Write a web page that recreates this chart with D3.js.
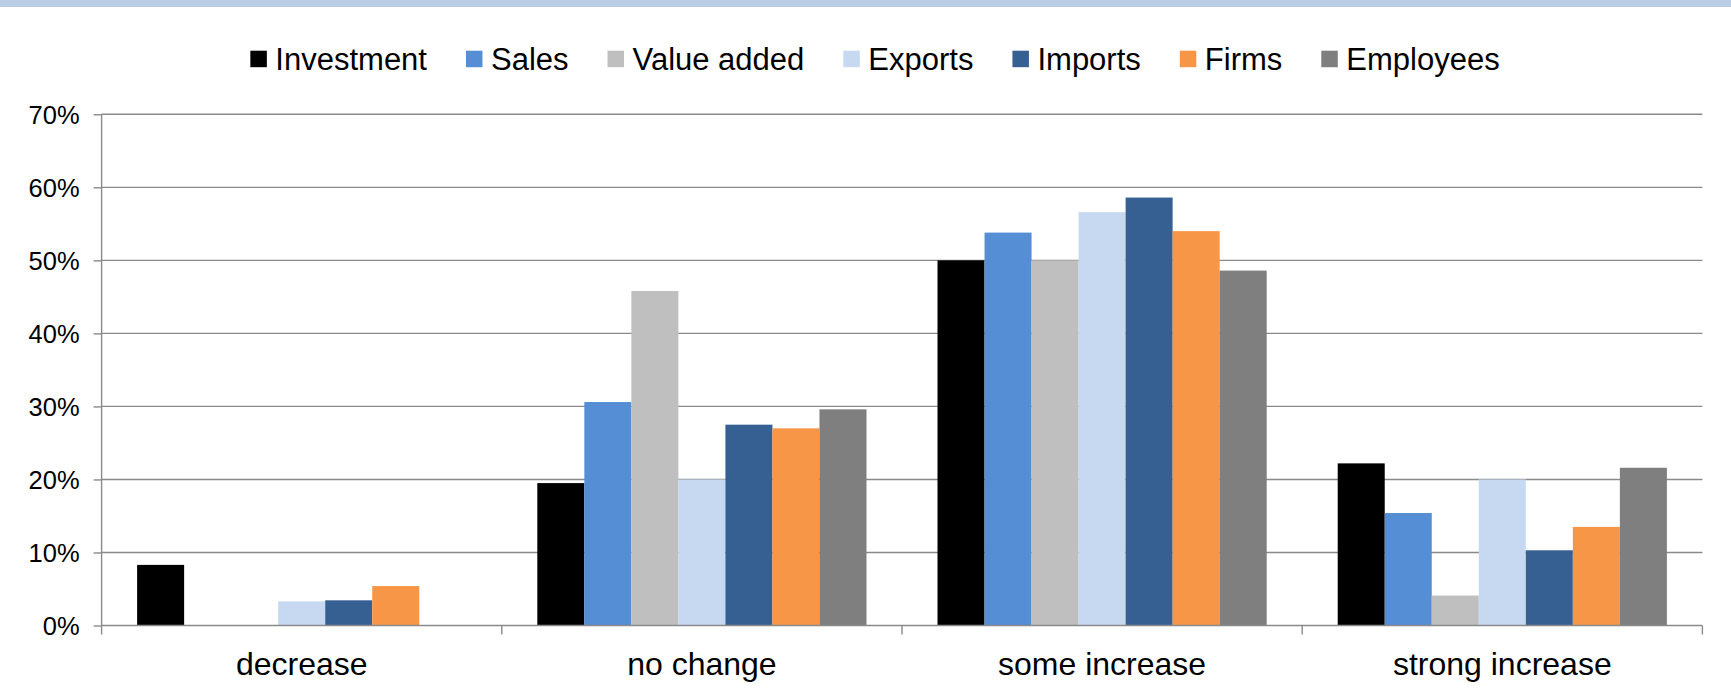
<!DOCTYPE html>
<html>
<head>
<meta charset="utf-8">
<script src="https://cdn.jsdelivr.net/npm/d3@7"></script>
<style>
  html, body { margin: 0; padding: 0; background: #fff; }
  svg { display: block; }
  text { font-family: "Liberation Sans", Arial, sans-serif; fill: #000; }
</style>
</head>
<body>
<svg id="chart" width="1731" height="694"></svg>
<script>
const categories = ["decrease", "no change", "some increase", "strong increase"];
const seriesNames = ["Investment", "Sales", "Value added", "Exports", "Imports", "Firms", "Employees"];
const seriesColors = ["#000000", "#558ed5", "#bfbfbf", "#c6d9f1", "#376092", "#f79646", "#7f7f7f"];
const investment = [8.3, 19.5, 50.0, 22.2];
const sales      = [0, 30.6, 53.8, 15.4];
const valueAdded = [0, 45.8, 50.0, 4.1];
const exportsV   = [3.3, 20.0, 56.6, 20.0];
const imports    = [3.45, 27.5, 58.6, 10.3];
const firms      = [5.4, 27.0, 54.0, 13.5];
const employees  = [0, 29.6, 48.6, 21.6];
const yTicks = [0, 10, 20, 30, 40, 50, 60, 70];

const seriesValues = [investment, sales, valueAdded, exportsV, imports, firms, employees];

const svg = d3.select("#chart");
const W = 1731, H = 694;
const plot = { left: 101.6, right: 1702.4, top: 114.3, bottom: 625.5 };

// top band
svg.append("rect").attr("x", 0).attr("y", 0).attr("width", W).attr("height", 7).attr("fill", "#b9cde5");

const x0 = d3.scaleBand().domain(categories).range([plot.left, plot.right]).paddingInner(0).paddingOuter(0);
const x1 = d3.scaleBand().domain(seriesNames).range([0, x0.bandwidth()]).paddingInner(0).paddingOuter(0.755);
const y = d3.scaleLinear().domain([0, 70]).range([plot.bottom, plot.top]);

const gridColor = "#8a8a8a";

// gridlines
svg.append("g").selectAll("line").data(yTicks.filter(d => d > 0)).join("line")
  .attr("x1", plot.left).attr("x2", plot.right)
  .attr("y1", d => y(d)).attr("y2", d => y(d))
  .attr("stroke", gridColor).attr("stroke-width", 1.4);

// bars
const groups = svg.append("g").selectAll("g").data(categories).join("g")
  .attr("transform", c => `translate(${x0(c)},0)`);
groups.selectAll("rect")
  .data((c, ci) => seriesNames.map((s, si) => ({ s, si, v: seriesValues[si][ci] })))
  .join("rect")
  .attr("x", d => x1(d.s))
  .attr("width", x1.bandwidth())
  .attr("y", d => y(d.v))
  .attr("height", d => plot.bottom - y(d.v))
  .attr("fill", d => seriesColors[d.si]);

// y axis
const yAxis = d3.axisLeft(y).tickValues(yTicks).tickFormat(d => d + "%").tickSize(8).tickPadding(14);
const gy = svg.append("g").attr("transform", `translate(${plot.left},0)`).call(yAxis);
gy.select(".domain").attr("stroke", gridColor).attr("stroke-width", 1.4).attr("d", `M0,${plot.top}V${plot.bottom}`);
gy.selectAll(".tick line").attr("stroke", gridColor).attr("stroke-width", 1.4);
gy.selectAll(".tick text").attr("font-size", "25.5px").attr("font-family", "Liberation Sans, Arial, sans-serif")
  .attr("fill", "#000").attr("dy", "0.35em");

// x axis
const xTickPos = d3.range(categories.length + 1).map(i => plot.left + i * x0.bandwidth());
const gx = svg.append("g");
gx.append("line").attr("x1", plot.left).attr("x2", plot.right).attr("y1", plot.bottom).attr("y2", plot.bottom)
  .attr("stroke", gridColor).attr("stroke-width", 1.4);
gx.selectAll("line.tk").data(xTickPos).join("line").attr("class", "tk")
  .attr("x1", d => d).attr("x2", d => d).attr("y1", plot.bottom).attr("y2", plot.bottom + 9)
  .attr("stroke", gridColor).attr("stroke-width", 1.4);
gx.selectAll("text").data(categories).join("text")
  .attr("x", c => x0(c) + x0.bandwidth() / 2).attr("y", 675)
  .attr("text-anchor", "middle").attr("font-size", "32px").text(c => c);

// legend
const legend = svg.append("g");
const sq = 16.5, sqGap = 8.5, itemGap = 39, legFont = 31;
const items = legend.selectAll("g").data(seriesNames).join("g");
items.append("rect").attr("width", sq).attr("height", sq).attr("y", 50.7)
  .attr("fill", (d, i) => seriesColors[i]);
items.append("text").attr("x", sq + sqGap).attr("y", 70).attr("font-size", legFont + "px").text(d => d);
let widths = [];
items.each(function () { widths.push(this.querySelector("text").getComputedTextLength() + sq + sqGap); });
const total = d3.sum(widths) + itemGap * (widths.length - 1);
let cx = 875 - total / 2;
items.attr("transform", (d, i) => {
  const t = `translate(${cx},0)`;
  cx += widths[i] + itemGap;
  return t;
});
</script>
</body>
</html>
